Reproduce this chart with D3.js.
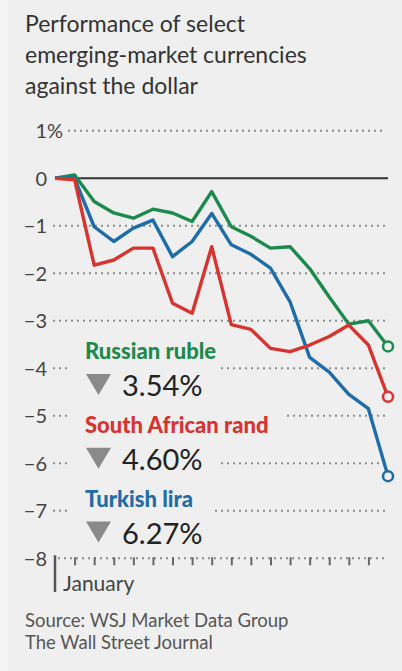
<!DOCTYPE html>
<html>
<head>
<meta charset="utf-8">
<script src="https://cdn.jsdelivr.net/npm/d3@7"></script>
<style>
  body { margin: 0; background: #efefef; }
  svg { display: block; }
</style>
</head>
<body>
<svg width="402" height="671"></svg>
<script>
// days since start of January (x index), percent change vs dollar
var days = d3.range(18);
var ruble = [0, 0.07, -0.49, -0.73, -0.84, -0.65, -0.73, -0.91, -0.28, -1.02, -1.22, -1.47, -1.44, -1.9, -2.5, -3.07, -3.0, -3.54];
var rand  = [0, -0.03, -1.83, -1.72, -1.47, -1.47, -2.63, -2.84, -1.44, -3.08, -3.18, -3.58, -3.65, -3.51, -3.33, -3.09, -3.51, -4.60];
var lira  = [0, 0, -1.02, -1.33, -1.05, -0.88, -1.65, -1.33, -0.74, -1.4, -1.6, -1.89, -2.6, -3.77, -4.08, -4.55, -4.85, -6.27];

var seriesNames = ["Russian ruble", "South African rand", "Turkish lira"];
var seriesChange = ["3.54%", "4.60%", "6.27%"];
var yTicks = [1, 0, -1, -2, -3, -4, -5, -6, -7, -8];
var titleLines = ["Performance of select", "emerging-market currencies", "against the dollar"];
var sourceLines = ["Source: WSJ Market Data Group", "The Wall Street Journal"];

var colors = ["#1b8a4c", "#d7332f", "#1e6ca8"];
var bg = "#efefef";
var font = "Lato, 'Open Sans', sans-serif";

var svg = d3.select("svg");

svg.append("rect").attr("width", 402).attr("height", 671).attr("fill", bg);
svg.append("rect").attr("width", 8).attr("height", 671).attr("fill", "#f4f4f4");

var x = d3.scaleLinear().domain([0, 17]).range([55, 388]);
var y = d3.scaleLinear().domain([-8, 1]).range([558.3, 130.8]);

// title
svg.append("g").selectAll("text")
  .data(titleLines)
  .enter().append("text")
  .attr("x", 25)
  .attr("y", function(d, i) { return 32 + i * 31; })
  .attr("font-family", font)
  .attr("font-size", "23px")
  .attr("fill", "#333")
  .text(function(d) { return d; });

// grid
var grid = svg.append("g");
yTicks.forEach(function(t) {
  if (t == 0) {
    grid.append("line")
      .attr("x1", x(0)).attr("x2", x(17))
      .attr("y1", y(0)).attr("y2", y(0))
      .attr("stroke", "#333").attr("stroke-width", 2);
  } else {
    grid.append("line")
      .attr("x1", t == 1 ? 68 : (t == -8 ? 58 : 53)).attr("x2", 386)
      .attr("y1", y(t)).attr("y2", y(t))
      .attr("stroke", "#8c8c8c").attr("stroke-width", 2)
      .attr("stroke-dasharray", "2,4");
  }
  grid.append("text")
    .attr("x", 47)
    .attr("y", y(t))
    .attr("dy", "0.36em")
    .attr("text-anchor", "end")
    .attr("font-family", font)
    .attr("font-size", "20px")
    .attr("fill", "#444")
    .text(t < 0 ? "\u2212" + Math.abs(t) : t);
  if (t == 1) {
    grid.append("text")
      .attr("x", 47)
      .attr("y", y(t))
      .attr("dy", "0.36em")
      .attr("font-family", font)
      .attr("font-size", "20px")
      .attr("fill", "#444")
      .text("%");
  }
});

// x axis ticks
var xAxis = svg.append("g")
  .attr("transform", "translate(0," + (y(-8) - 1) + ")")
  .call(d3.axisBottom(x).tickValues(d3.range(1, 17)).tickSize(8).tickFormat(""));
xAxis.select(".domain").remove();
xAxis.selectAll(".tick line").attr("stroke", "#666").attr("stroke-width", 2);

svg.append("line")
  .attr("x1", x(0)).attr("x2", x(0))
  .attr("y1", y(-8) - 3).attr("y2", 592)
  .attr("stroke", "#555").attr("stroke-width", 2.5);

svg.append("text")
  .attr("x", 63).attr("y", 591)
  .attr("font-family", font)
  .attr("font-size", "21px")
  .attr("fill", "#444")
  .text("January");

// legend
var legend = svg.append("g");
seriesNames.forEach(function(name, i) {
  var base = 359 + i * 73.8;
  var g1 = legend.append("g");
  var bgRect1 = g1.append("rect").attr("fill", bg);
  var t1 = g1.append("text")
    .attr("x", 85).attr("y", base)
    .attr("font-family", font)
    .attr("font-weight", "900")
    .attr("font-size", "22px")
    .attr("fill", colors[i])
    .text(name);
  var b1 = t1.node().getBBox();
  bgRect1.attr("x", 68).attr("y", b1.y - 1)
    .attr("width", b1.x + b1.width + 18 - 68).attr("height", b1.height + 2);

  var vb = base + 37;
  var g2 = legend.append("g");
  var bgRect2 = g2.append("rect").attr("fill", bg);
  g2.append("path")
    .attr("d", "M86," + (vb - 22) + "L111," + (vb - 22) + "L98.5," + (vb - 1) + "Z")
    .attr("fill", "#8a8a8a");
  var t2 = g2.append("text")
    .attr("x", 122).attr("y", vb)
    .attr("font-family", font)
    .attr("font-size", "29px")
    .attr("fill", "#222")
    .text(seriesChange[i]);
  var b2 = t2.node().getBBox();
  bgRect2.attr("x", 68).attr("y", b2.y)
    .attr("width", b2.x + b2.width + 18 - 68).attr("height", b2.height);
});

// lines
var line = d3.line()
  .x(function(d, i) { return x(days[i]); })
  .y(function(d) { return y(d); });

var allSeries = [ruble, lira, rand];
var allColors = [colors[0], colors[2], colors[1]];
allSeries.forEach(function(s, i) {
  svg.append("path")
    .datum(s)
    .attr("d", line)
    .attr("fill", "none")
    .attr("stroke", allColors[i])
    .attr("stroke-width", 3.4)
    .attr("stroke-linejoin", "round");
});
allSeries.forEach(function(s, i) {
  svg.append("circle")
    .attr("cx", x(days[17]))
    .attr("cy", y(s[17]))
    .attr("r", 5)
    .attr("fill", bg)
    .attr("stroke", allColors[i])
    .attr("stroke-width", 2.5);
});

// source
svg.append("g").selectAll("text")
  .data(sourceLines)
  .enter().append("text")
  .attr("x", 25)
  .attr("y", function(d, i) { return 627 + i * 21.5; })
  .attr("font-family", font)
  .attr("font-size", "18.5px")
  .attr("fill", "#555")
  .text(function(d) { return d; });
</script>
</body>
</html>
